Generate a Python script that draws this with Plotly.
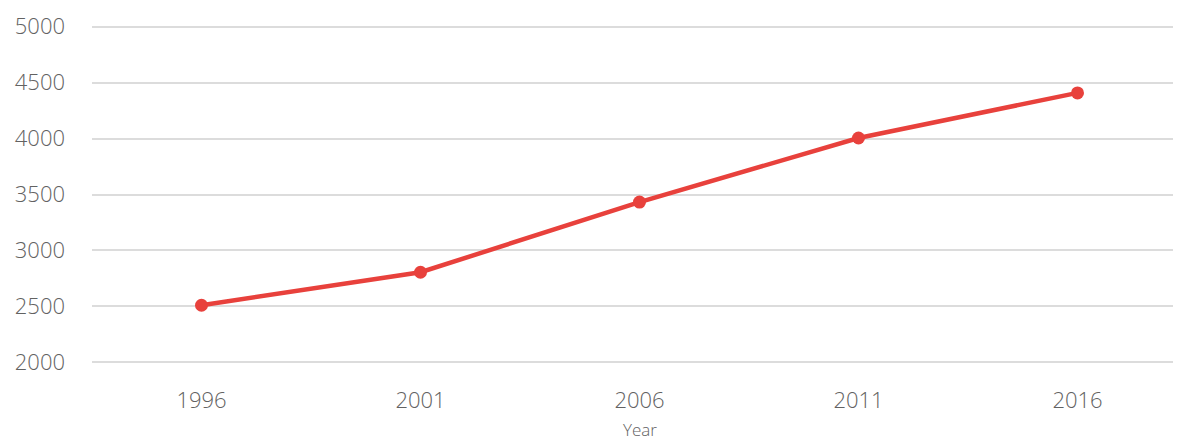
import plotly.graph_objects as go

years = ["1996", "2001", "2006", "2011", "2016"]
values = [2510, 2805, 3432, 4005, 4408]
y_ticks = [2000, 2500, 3000, 3500, 4000, 4500, 5000]

fig = go.Figure()
fig.add_trace(go.Scatter(
    x=years, y=values, mode="lines+markers",
    line=dict(color="#e8413c", width=4.5),
    marker=dict(color="#e8413c", size=13),
    showlegend=False, cliponaxis=False,
))
fig.update_layout(
    width=1165, height=432,
    margin=dict(l=84, r=0, t=17, b=76),
    paper_bgcolor="white", plot_bgcolor="white",
    font=dict(family="Open Sans", color="#626262", size=22, weight=300),
    xaxis=dict(
        type="category", range=[-0.5, 4.436], automargin=False,
        showgrid=False, zeroline=False, showline=False, ticks="",
        tickfont=dict(size=22, color="#626262", weight=300),
        ticklabelstandoff=21,
    ),
    yaxis=dict(
        range=[1985, 5015], tickvals=y_ticks, automargin=False,
        showgrid=True, gridcolor="#dcdcdc", gridwidth=1.5,
        zeroline=False, showline=False, ticks="",
        tickfont=dict(size=22, color="#626262", weight=300),
        ticklabelstandoff=26,
    ),
    annotations=[dict(
        text="Year", xref="x", x=2, yref="paper", y=-0.192,
        yanchor="middle", xanchor="center", showarrow=False,
        font=dict(size=17, color="#626262", weight=300),
    )],
)
fig.write_html("out.html")
